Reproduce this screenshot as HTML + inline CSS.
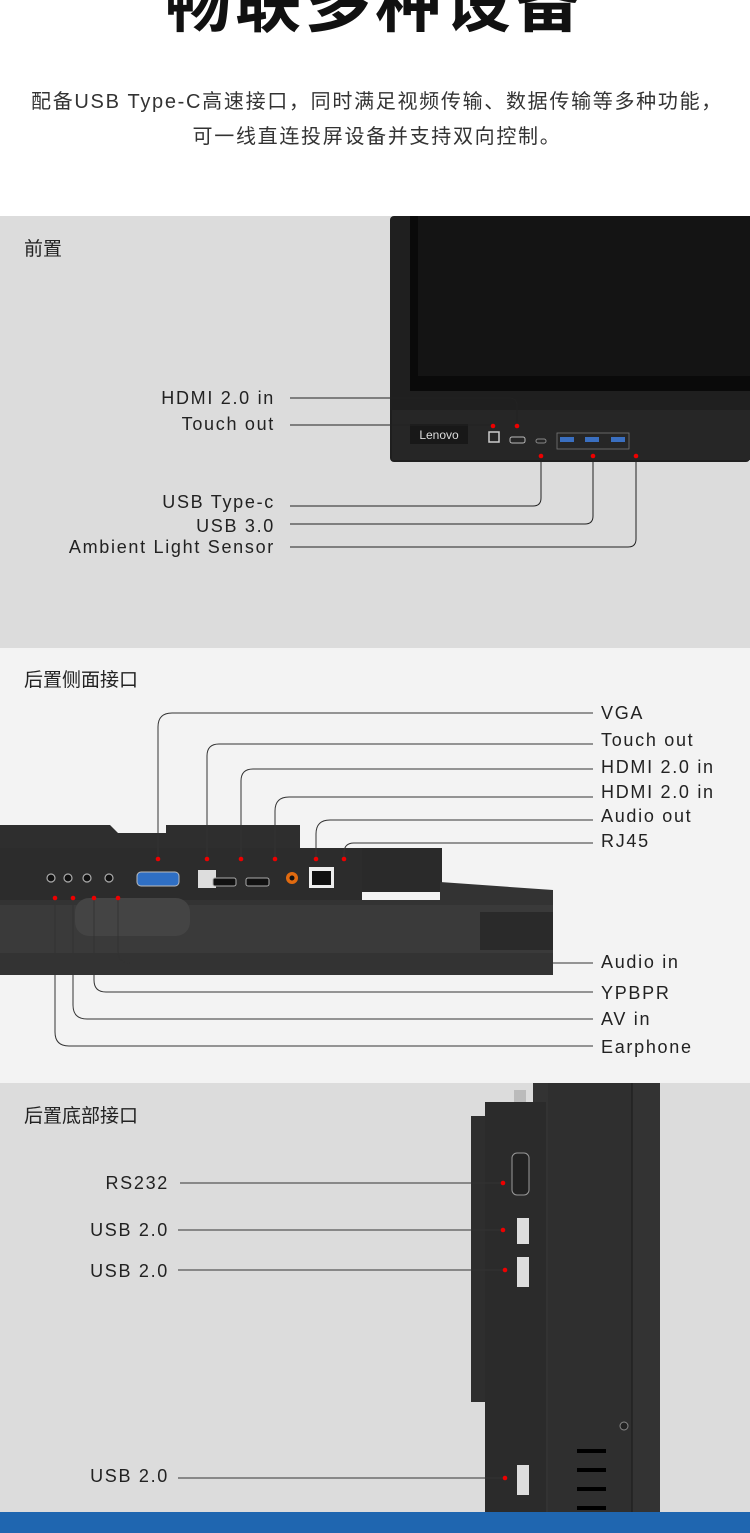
<!DOCTYPE html>
<html><head><meta charset="utf-8"><style>
body{margin:0;width:750px;height:1533px;overflow:hidden;background:#fff}
svg{display:block}
text{font-family:"Liberation Sans","Noto Sans CJK SC",sans-serif}
.l{font-size:18px;letter-spacing:1.7px;fill:#222}
</style></head><body>
<svg width="750" height="1533" viewBox="0 0 750 1533" xmlns="http://www.w3.org/2000/svg">
<rect width="750" height="216" fill="#fff"/>
<text x="375" y="26" font-size="66" font-weight="bold" text-anchor="middle" style="fill:#111;letter-spacing:4px">畅联多种设备</text>
<text x="377" y="108" font-size="20" text-anchor="middle" style="fill:#333;letter-spacing:1.7px">配备USB Type-C高速接口，同时满足视频传输、数据传输等多种功能，</text>
<text x="377" y="143" font-size="20" text-anchor="middle" style="fill:#333;letter-spacing:1.7px">可一线直连投屏设备并支持双向控制。</text>

<!-- section 1 -->
<rect y="216" width="750" height="432" fill="#dcdcdc"/>
<text x="24" y="255" font-size="19" style="fill:#222">前置</text>
<rect x="390" y="216" width="360" height="246" rx="4" fill="#1f1f1f"/>
<rect x="410" y="216" width="340" height="175" fill="#0a0a0a"/>
<rect x="418" y="216" width="332" height="160" fill="#141414"/>
<rect x="392" y="410" width="358" height="50" fill="#262626"/>
<rect x="410" y="424" width="58" height="20" fill="#181818"/>
<text x="439" y="439" font-size="12" text-anchor="middle" style="fill:#ddd">Lenovo</text>
<rect x="489" y="432" width="10" height="10" fill="none" stroke="#ccc" stroke-width="1.5"/>
<rect x="510" y="437" width="15" height="6" rx="2" fill="none" stroke="#bbb"/>
<rect x="536" y="439" width="10" height="4" rx="2" fill="none" stroke="#888"/>
<rect x="557" y="433" width="72" height="16" fill="none" stroke="#777" stroke-width="0.8"/>
<rect x="560" y="437" width="14" height="5" fill="#3a6fc0"/>
<rect x="585" y="437" width="14" height="5" fill="#3a6fc0"/>
<rect x="611" y="437" width="14" height="5" fill="#3a6fc0"/>
<g fill="none" stroke="#222" stroke-width="1">
<path d="M290 398 H509 Q517 398 517 406 V426"/>
<path d="M290 425 H493"/>
<path d="M290 506 H533 Q541 506 541 498 V456"/>
<path d="M290 524 H585 Q593 524 593 516 V456"/>
<path d="M290 547 H628 Q636 547 636 539 V456"/>
</g>
<g fill="#e00">
<circle cx="493" cy="426" r="2.3"/><circle cx="517" cy="426" r="2.3"/>
<circle cx="541" cy="456" r="2.3"/><circle cx="593" cy="456" r="2.3"/><circle cx="636" cy="456" r="2.3"/>
</g>
<g class="l" text-anchor="end">
<text class="l" x="275" y="404">HDMI 2.0 in</text>
<text class="l" x="275" y="430">Touch out</text>
<text class="l" x="275" y="508">USB Type-c</text>
<text class="l" x="275" y="532">USB 3.0</text>
<text class="l" x="275" y="553">Ambient Light Sensor</text>
</g>

<!-- section 2 -->
<rect y="648" width="750" height="435" fill="#f3f3f3"/>
<text x="24" y="686" font-size="19" style="fill:#222">后置侧面接口</text>
<path d="M0 825 H110 L118 833 H166 V825 H300 V848 H0Z" fill="#2e2e2e"/>
<rect x="362" y="848" width="80" height="44" fill="#2a2a2a"/>
<path d="M440 882 L553 890 V975 H0 V900 H440Z" fill="#333"/>
<rect x="0" y="848" width="362" height="52" fill="#2c2c2c"/>
<rect x="0" y="905" width="553" height="48" fill="#3a3a3a"/>
<rect x="75" y="898" width="115" height="38" rx="14" fill="#444"/>
<rect x="480" y="912" width="73" height="38" fill="#2a2a2a"/>
<g fill="#111" stroke="#aaa" stroke-width="1.2">
<circle cx="51" cy="878" r="4"/><circle cx="68" cy="878" r="4"/><circle cx="87" cy="878" r="4"/><circle cx="109" cy="878" r="4"/>
</g>
<rect x="137" y="872" width="42" height="14" rx="4" fill="#2f6fc4" stroke="#bbb"/>
<rect x="198" y="870" width="18" height="18" fill="#ddd"/>
<rect x="213" y="878" width="23" height="8" rx="2" fill="#111" stroke="#aaa"/>
<rect x="246" y="878" width="23" height="8" rx="2" fill="#111" stroke="#aaa"/>
<circle cx="292" cy="878" r="6" fill="#e06a10"/><circle cx="292" cy="878" r="2.5" fill="#111"/>
<rect x="309" y="867" width="25" height="21" fill="#eee"/><rect x="312" y="871" width="19" height="14" fill="#111"/>
<g fill="none" stroke="#333" stroke-width="1">
<path d="M593 713 H172 Q158 713 158 727 V859"/>
<path d="M593 744 H219 Q207 744 207 756 V859"/>
<path d="M593 769 H253 Q241 769 241 781 V859"/>
<path d="M593 797 H289 Q275 797 275 811 V859"/>
<path d="M593 820 H330 Q316 820 316 834 V859"/>
<path d="M593 843 H354 Q344 843 344 853 V859"/>
<path d="M593 963 H130 Q118 963 118 951 V898"/>
<path d="M593 992 H106 Q94 992 94 980 V898"/>
<path d="M593 1019 H87 Q73 1019 73 1005 V898"/>
<path d="M593 1046 H69 Q55 1046 55 1032 V898"/>
</g>
<g fill="#e00">
<circle cx="158" cy="859" r="2.3"/><circle cx="207" cy="859" r="2.3"/><circle cx="241" cy="859" r="2.3"/>
<circle cx="275" cy="859" r="2.3"/><circle cx="316" cy="859" r="2.3"/><circle cx="344" cy="859" r="2.3"/>
<circle cx="55" cy="898" r="2.3"/><circle cx="73" cy="898" r="2.3"/><circle cx="94" cy="898" r="2.3"/><circle cx="118" cy="898" r="2.3"/>
</g>
<g>
<text class="l" x="601" y="719">VGA</text>
<text class="l" x="601" y="746">Touch out</text>
<text class="l" x="601" y="773">HDMI 2.0 in</text>
<text class="l" x="601" y="798">HDMI 2.0 in</text>
<text class="l" x="601" y="822">Audio out</text>
<text class="l" x="601" y="847">RJ45</text>
<text class="l" x="601" y="968">Audio in</text>
<text class="l" x="601" y="999">YPBPR</text>
<text class="l" x="601" y="1025">AV in</text>
<text class="l" x="601" y="1053">Earphone</text>
</g>

<!-- section 3 -->
<rect y="1083" width="750" height="430" fill="#dcdcdc"/>
<text x="24" y="1122" font-size="19" style="fill:#222">后置底部接口</text>
<rect x="533" y="1083" width="127" height="430" fill="#333"/>
<rect x="548" y="1083" width="84" height="430" fill="#2f2f2f"/>
<line x1="632" y1="1083" x2="632" y2="1513" stroke="#1a1a1a"/>
<rect x="514" y="1090" width="12" height="14" fill="#bbb"/>
<rect x="485" y="1102" width="61" height="411" fill="#2b2b2b"/>
<rect x="471" y="1116" width="14" height="286" fill="#2e2e2e"/>
<rect x="512" y="1153" width="17" height="42" rx="5" fill="#222" stroke="#999"/>
<rect x="517" y="1218" width="12" height="26" fill="#ddd"/>
<rect x="517" y="1257" width="12" height="30" fill="#ddd"/>
<rect x="517" y="1465" width="12" height="30" fill="#ddd"/>
<g fill="#000"><rect x="577" y="1449" width="29" height="4"/><rect x="577" y="1468" width="29" height="4"/><rect x="577" y="1487" width="29" height="4"/><rect x="577" y="1506" width="29" height="4"/></g>
<circle cx="624" cy="1426" r="4" fill="#222" stroke="#888"/>
<g stroke="#333" stroke-width="1">
<line x1="180" y1="1183" x2="503" y2="1183"/>
<line x1="178" y1="1230" x2="503" y2="1230"/>
<line x1="178" y1="1270" x2="505" y2="1270"/>
<line x1="178" y1="1478" x2="505" y2="1478"/>
</g>
<g fill="#e00"><circle cx="503" cy="1183" r="2.3"/><circle cx="503" cy="1230" r="2.3"/><circle cx="505" cy="1270" r="2.3"/><circle cx="505" cy="1478" r="2.3"/></g>
<g text-anchor="end">
<text class="l" x="169" y="1189">RS232</text>
<text class="l" x="169" y="1236">USB 2.0</text>
<text class="l" x="169" y="1277">USB 2.0</text>
<text class="l" x="169" y="1482">USB 2.0</text>
</g>
<rect y="1512" width="750" height="21" fill="#1f66b0"/>
</svg>
</body></html>
